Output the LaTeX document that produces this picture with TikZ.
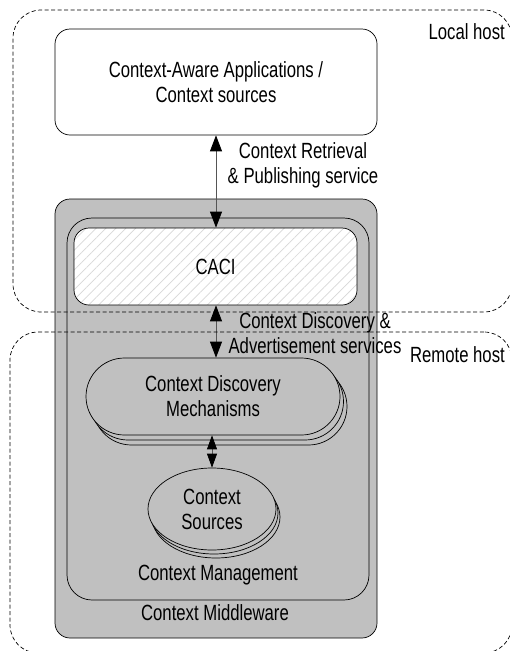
\documentclass[tikz,border=0pt]{standalone}
\usepackage{fontspec}
\setmainfont{Liberation Sans}[FakeStretch=0.76]
\usepackage{xcolor}
\usetikzlibrary{positioning,arrows.meta,shapes.geometric,shapes.misc,shadows,patterns.meta}
\definecolor{mwgrey}{HTML}{C0C0C0}
\definecolor{hatchgrey}{HTML}{D8D8D8}
\definecolor{arrowgrey}{HTML}{555555}
\tikzset{
  txt/.style   = {align=center, font=\fontsize{22}{25}\selectfont, inner sep=0pt},
  box/.style   = {txt, draw, rounded corners=15pt, line width=0.7pt},
  appbox/.style= {box, fill=white},
  mware/.style = {box, fill=mwgrey},
  mgmt/.style  = {box, rounded corners=25pt},
  caci/.style  = {box, preaction={fill=white},
                  pattern={Lines[angle=45, distance=7pt, line width=0.7pt]},
                  pattern color=hatchgrey},
  mech/.style  = {txt, rounded rectangle, draw, fill=mwgrey, line width=0.7pt,
                  copy shadow={shadow xshift=7pt, shadow yshift=-10pt, fill=mwgrey, draw=black, line width=0.7pt},
                  copy shadow={shadow xshift=3.5pt, shadow yshift=-5pt, fill=mwgrey, draw=black, line width=0.7pt}},
  srcs/.style  = {txt, ellipse, draw, fill=mwgrey, line width=0.7pt,
                  copy shadow={shadow xshift=4pt, shadow yshift=-8pt, fill=mwgrey, draw=black, line width=0.7pt},
                  copy shadow={shadow xshift=2pt, shadow yshift=-4pt, fill=mwgrey, draw=black, line width=0.7pt}},
  host/.style  = {draw, dashed, dash pattern=on 4pt off 2.5pt, rounded corners=28pt,
                  line width=0.7pt, inner sep=0pt},
  arr/.style   = {{Triangle[length=16pt, width=12pt, color=black]}-{Triangle[length=16pt, width=12pt, color=black]},
                  line width=0.8pt, draw=arrowgrey},
  arrs/.style  = {{Triangle[length=14pt, width=10pt, color=black]}-{Triangle[length=14pt, width=10pt, color=black]},
                  line width=0.8pt, draw=arrowgrey},
}
\begin{document}
\begin{tikzpicture}[x=1pt, y=-1pt]
  \useasboundingbox (0,0) rectangle (510,651);

  % middleware and its contents
  \node[mware, minimum width=322pt, minimum height=439pt] (mware) at (216,418.5) {};
  \node[mgmt, minimum width=302pt, minimum height=382pt] (mgmt) at (218,409) {};
  \node[caci, minimum width=283pt, minimum height=77pt] (caci) at (215.5,266.5) {CACI};
  \node[mech, minimum width=254pt, minimum height=77pt] (mech) at (213,396.5)
        {Context Discovery\\Mechanisms};
  \node[srcs, minimum width=128pt, minimum height=82pt] (srcs) at (212,509)
        {Context\\Sources};
  \node[txt] (mgmtlab) at (218,575) {Context Management};
  \node[txt] (mwarelab) at (215,613) {Context Middleware};

  % applications
  \node[appbox, minimum width=322pt, minimum height=106pt] (apps) at (216,82)
        {Context-Aware Applications /\\Context sources};

  % services
  \draw[arr] (apps.south) -- (apps.south |- caci.north);
  \node[txt] (retr) at (303,165) {Context Retrieval\\\& Publishing service};
  \draw[arr] (caci.south -| apps.south) -- (apps.south |- mech.north);
  \node[txt] (disc) at (315,333) {Context Discovery \&\\Advertisement services};
  \draw[arrs] (srcs.north |- mech.south) -- (srcs.north);

  % hosts
  \node[host, minimum width=499pt, minimum height=302pt] (local) at (262.5,161) {};
  \node[txt, anchor=east] (locallab) at (505,32) {Local host};
  \node[host, minimum width=502pt, minimum height=321pt] (remote) at (261,492.5) {};
  \node[txt, anchor=east] (remotelab) at (505,355) {Remote host};
\end{tikzpicture}
\end{document}
